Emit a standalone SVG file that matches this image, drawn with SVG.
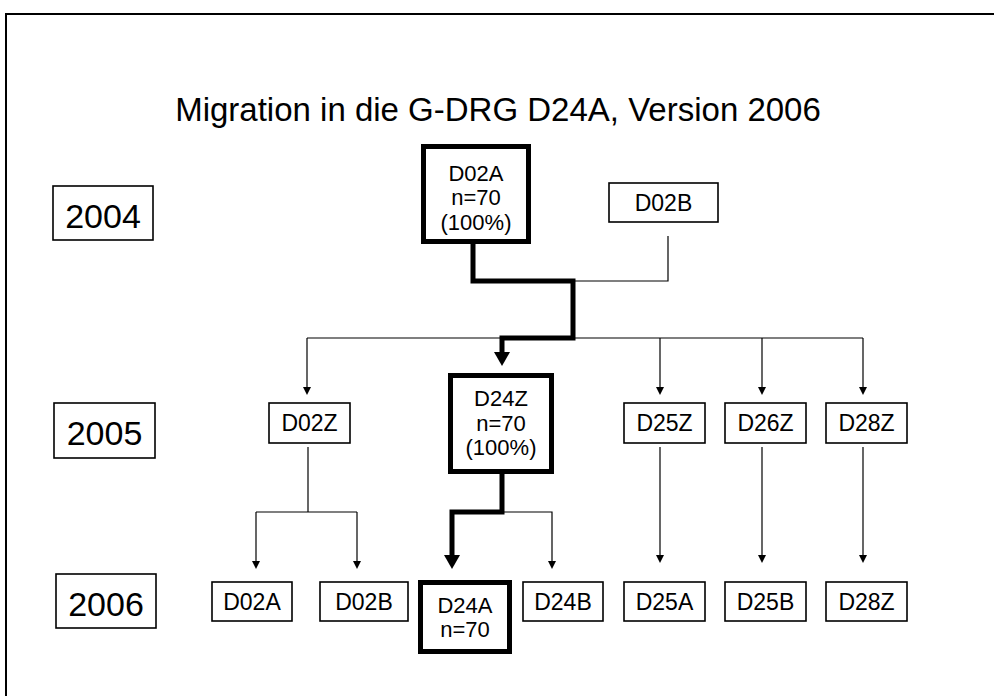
<svg xmlns="http://www.w3.org/2000/svg" width="994" height="696" viewBox="0 0 994 696">
<style>
text{font-family:"Liberation Sans",Arial,sans-serif;fill:#000;text-anchor:middle}
.t{font-size:23px}
.m{font-size:22px}
.y{font-size:34px}
.box{fill:#fff;stroke:#000;stroke-width:1.6}
.bold{fill:#fff;stroke:#000;stroke-width:5}
.ln{fill:none;stroke:#000;stroke-width:1.2}
.th{fill:none;stroke:#000;stroke-width:5;stroke-linejoin:miter}
</style>
<defs>
<marker id="a" markerUnits="userSpaceOnUse" markerWidth="10" markerHeight="10" refX="0" refY="4" orient="auto" viewBox="0 0 10 8" overflow="visible"><path d="M0,0 L8,4 L0,8 z" fill="#000"/></marker>
<marker id="A" markerUnits="userSpaceOnUse" markerWidth="16" markerHeight="18" refX="0" refY="8" orient="auto" viewBox="0 0 16 16" overflow="visible"><path d="M0,0 L14,8 L0,16 z" fill="#000"/></marker>
</defs>
<rect x="6" y="14" width="1000" height="700" fill="#fff" stroke="#000" stroke-width="2"/>
<text id="title" x="498" y="121" style="font-size:33px">Migration in die G-DRG D24A, Version 2006</text>
<g id="connectors">
<path class="ln" d="M668,236 V281 H573"/>
<path class="ln" d="M307,338 H863"/>
<path class="ln" d="M307,338 V387" marker-end="url(#a)"/>
<path class="ln" d="M660,338 V387" marker-end="url(#a)"/>
<path class="ln" d="M762,338 V387" marker-end="url(#a)"/>
<path class="ln" d="M863,338 V387" marker-end="url(#a)"/>
<path class="ln" d="M308,447 V512"/>
<path class="ln" d="M256,512 H357"/>
<path class="ln" d="M256,512 V561" marker-end="url(#a)"/>
<path class="ln" d="M357,512 V561" marker-end="url(#a)"/>
<path class="ln" d="M452,512 H552 V561" marker-end="url(#a)"/>
<path class="ln" d="M660,447 V555" marker-end="url(#a)"/>
<path class="ln" d="M762,447 V555" marker-end="url(#a)"/>
<path class="ln" d="M863,447 V555" marker-end="url(#a)"/>
<path class="th" d="M473,244 V281 H573 V338 H502 V352" marker-end="url(#A)"/>
<path class="th" d="M502,473 V512 H452 V555" marker-end="url(#A)"/>
</g>
<g id="y2004"><rect class="box" x="53" y="186" width="100" height="54"/><text class="y" x="103" y="228">2004</text></g>
<g id="y2005"><rect class="box" x="54" y="403" width="101" height="55"/><text class="y" x="104.5" y="445">2005</text></g>
<g id="y2006"><rect class="box" x="56" y="574" width="100" height="54"/><text class="y" x="106" y="616">2006</text></g>
<g id="n2004_D02A"><rect class="bold" x="423.5" y="146.5" width="105" height="95"/><text class="m" x="476" y="180.5">D02A</text><text class="m" x="476" y="205">n=70</text><text class="m" x="476" y="229.5">(100%)</text></g>
<g id="n2004_D02B"><rect class="box" x="609" y="183" width="109" height="39"/><text class="t" x="663.5" y="211">D02B</text></g>
<g id="n2005_D02Z"><rect class="box" x="269" y="403" width="81" height="40"/><text class="t" x="309.5" y="431">D02Z</text></g>
<g id="n2005_D24Z"><rect class="bold" x="450.5" y="375.5" width="101" height="96"/><text class="m" x="501" y="406">D24Z</text><text class="m" x="501" y="430.5">n=70</text><text class="m" x="501" y="455">(100%)</text></g>
<g id="n2005_D25Z"><rect class="box" x="624" y="403" width="81" height="40"/><text class="t" x="664.5" y="431">D25Z</text></g>
<g id="n2005_D26Z"><rect class="box" x="725" y="403" width="81" height="40"/><text class="t" x="765.5" y="431">D26Z</text></g>
<g id="n2005_D28Z"><rect class="box" x="826" y="403" width="81" height="40"/><text class="t" x="866.5" y="431">D28Z</text></g>
<g id="n2006_D02A"><rect class="box" x="212" y="582" width="80" height="39"/><text class="t" x="252" y="610">D02A</text></g>
<g id="n2006_D02B"><rect class="box" x="320" y="582" width="88" height="39"/><text class="t" x="364" y="610">D02B</text></g>
<g id="n2006_D24A"><rect class="bold" x="420.5" y="582.5" width="89" height="69"/><text class="m" x="465" y="612.5">D24A</text><text class="m" x="465" y="637">n=70</text></g>
<g id="n2006_D24B"><rect class="box" x="523" y="582" width="80" height="39"/><text class="t" x="563" y="610">D24B</text></g>
<g id="n2006_D25A"><rect class="box" x="624" y="582" width="81" height="39"/><text class="t" x="664.5" y="610">D25A</text></g>
<g id="n2006_D25B"><rect class="box" x="725" y="582" width="81" height="39"/><text class="t" x="765.5" y="610">D25B</text></g>
<g id="n2006_D28Z"><rect class="box" x="826" y="582" width="81" height="39"/><text class="t" x="866.5" y="610">D28Z</text></g>
</svg>
